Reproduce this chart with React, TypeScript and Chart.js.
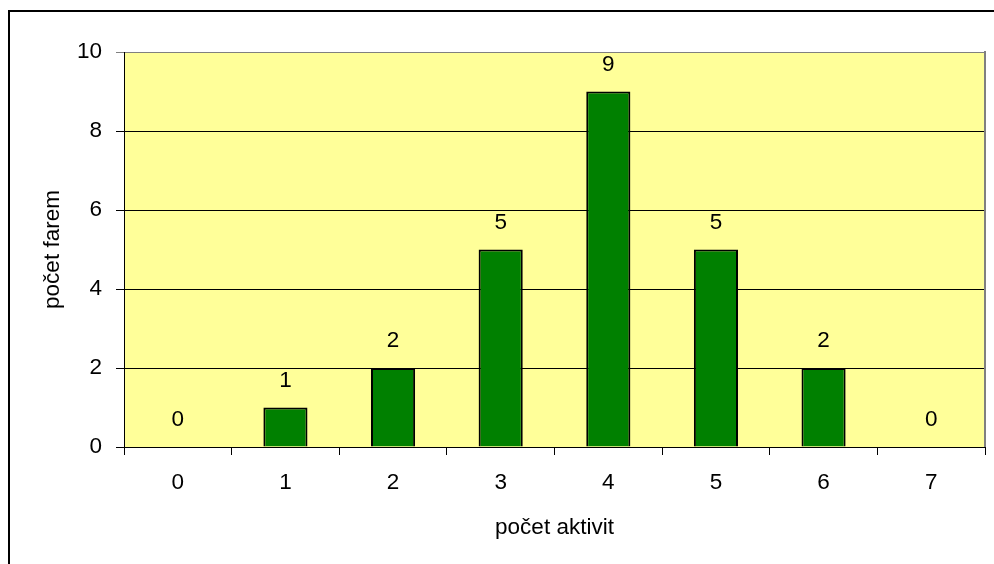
import React, { useEffect, useRef } from "react";
import { Chart, registerables } from "chart.js";

Chart.register(...registerables);

const categories = ["0", "1", "2", "3", "4", "5", "6", "7"];
const farmCounts = [0, 1, 2, 5, 9, 5, 2, 0];
const yTicks = [0, 2, 4, 6, 8, 10];
const xTitle = "počet aktivit";
const yTitle = "počet farem";

const FONT = "'Liberation Sans', Arial, sans-serif";
const FS = 22.5;

const plotBg = {
  id: "plotBg",
  beforeDraw(chart: any) {
    const { ctx, chartArea } = chart;
    ctx.save();
    ctx.fillStyle = "#FFFF99";
    ctx.fillRect(chartArea.left, chartArea.top, chartArea.right - chartArea.left, chartArea.bottom - chartArea.top);
    ctx.restore();
  },
  afterDraw(chart: any) {
    const { ctx, chartArea } = chart;
    ctx.save();
    ctx.strokeStyle = "#808080";
    ctx.lineWidth = 2;
    ctx.beginPath();
    ctx.moveTo(chartArea.right, chartArea.top - 1);
    ctx.lineTo(chartArea.right, chartArea.bottom);
    ctx.stroke();
    ctx.restore();
  },
};

const valueLabels = {
  id: "valueLabels",
  afterDatasetsDraw(chart: any) {
    const { ctx } = chart;
    const meta = chart.getDatasetMeta(0);
    ctx.save();
    ctx.fillStyle = "#000";
    ctx.font = `${FS}px ${FONT}`;
    ctx.textAlign = "center";
    ctx.textBaseline = "middle";
    meta.data.forEach((bar: any, i: number) => {
      ctx.fillText(String(farmCounts[i]), bar.x, bar.y - 27);
    });
    ctx.restore();
  },
};

export default function App() {
  const ref = useRef<HTMLCanvasElement>(null);
  useEffect(() => {
    if (!ref.current) return;
    const chart = new Chart(ref.current, {
      type: "bar",
      data: {
        labels: categories,
        datasets: [
          {
            data: farmCounts,
            backgroundColor: "#008000",
            borderColor: "#000000",
            borderWidth: 2,
            barPercentage: 0.41,
            categoryPercentage: 1,
          },
        ],
      },
      options: {
        responsive: false,
        animation: false,
        devicePixelRatio: 1,
        layout: { padding: { top: 52, right: 9, left: 0, bottom: 0 } },
        plugins: { legend: { display: false }, tooltip: { enabled: false } },
        scales: {
          x: {
            offset: true,
            grid: {
              offset: true,
              drawOnChartArea: false,
              drawTicks: true,
              tickLength: 8,
              color: "#000",
            },
            border: { display: true, color: "#000", width: 1 },
            ticks: { color: "#000", font: { family: FONT, size: FS }, padding: 14 },
            title: {
              display: true,
              text: xTitle,
              color: "#000",
              font: { family: FONT, size: FS },
              padding: { top: 0, bottom: 23 },
            },
            afterFit(scale: any) {
              scale.height = 117;
            },
          },
          y: {
            min: 0,
            max: 10,
            afterBuildTicks(scale: any) {
              scale.ticks = yTicks.map((v) => ({ value: v }));
            },
            grid: {
              drawTicks: true,
              tickLength: 8,
              color: (c: any) => (c.tick && c.tick.value === 10 ? "#808080" : "#000"),
            },
            border: { display: true, color: "#000", width: 1 },
            ticks: { color: "#000", font: { family: FONT, size: FS }, padding: 14 },
            title: {
              display: true,
              text: yTitle,
              color: "#000",
              font: { family: FONT, size: FS },
              padding: { top: 39, bottom: 0 },
            },
            afterFit(scale: any) {
              scale.width = 124;
            },
          },
        },
      },
      plugins: [plotBg, valueLabels],
    });
    return () => chart.destroy();
  }, []);

  return (
    <div style={{ position: "fixed", left: 0, top: 0, width: 994, height: 564, overflow: "hidden", background: "#fff" }}>
      <div
        style={{
          position: "absolute",
          left: 8,
          top: 10,
          width: 1100,
          height: 700,
          border: "2px solid #000",
          boxSizing: "border-box",
        }}
      />
      <canvas ref={ref} width={994} height={564} style={{ position: "absolute", left: 0, top: 0, width: 994, height: 564 }} />
    </div>
  );
}
